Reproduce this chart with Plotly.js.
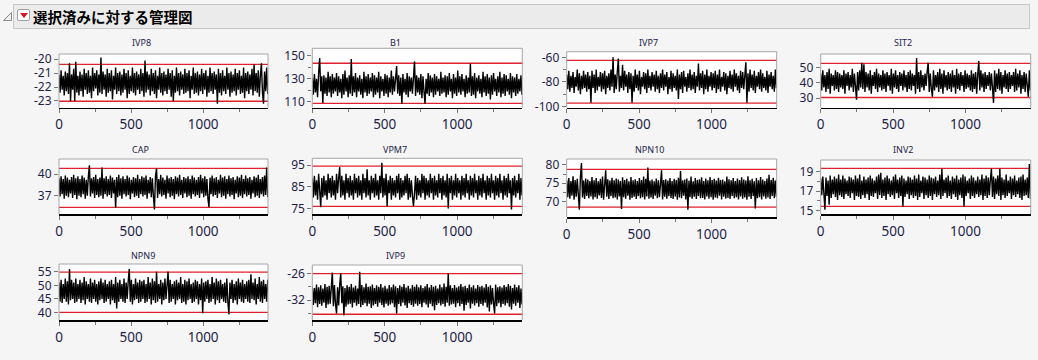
<!DOCTYPE html>
<html><head><meta charset="utf-8">
<script src="https://cdn.plot.ly/plotly-3.0.1.min.js"></script>
<style>
html,body{margin:0;padding:0;background:#f5f5f5;width:1038px;height:360px;overflow:hidden;}
#chart{position:absolute;left:0;top:0;width:1038px;height:360px;}
#hdr{position:absolute;left:13px;top:4px;width:1017px;height:25px;box-sizing:border-box;background:#ebebeb;border:1px solid #c8c8c8;z-index:5;}
#hdr .t{position:absolute;left:19px;top:1px;font-family:"Noto Sans CJK JP";font-weight:bold;font-size:14.5px;line-height:21px;color:#000;white-space:nowrap;}
#btn{position:absolute;left:3px;top:4px;width:13px;height:12px;box-sizing:border-box;background:#fff;border:1px solid #a0a0a0;border-radius:2px;}
#btn i{position:absolute;left:2px;top:3px;width:0;height:0;border-left:4px solid transparent;border-right:4px solid transparent;border-top:5px solid #d8141e;}
#disc{position:absolute;left:2px;top:11px;z-index:5;}
</style></head>
<body>
<div id="chart"></div>
<svg id="disc" width="11" height="11"><polygon points="9.5,1.5 9.5,9.5 1.5,9.5" fill="#f0f0f0" stroke="#8a8a8a" stroke-width="1"/></svg>
<div id="hdr"><div id="btn"><i></i></div><div class="t">選択済みに対する管理図</div></div>
<script>
// ---------- data (values read column by column: upper / lower extents of the trace) ----------
const seriesNames = ['IVP8','B1','IVP7','SIT2','CAP','VPM7','NPN10','INV2','NPN9','IVP9'];
const sampleCount = 1448;
const xTickVals = [0,500,1000];
const xTickText = ['0','500','1000'];
const xMinorVals = [250,750,1250];

const ivp8 = [
-21.1,-22.4,-20.8,-22.2,-21.2,-22.6,-20.9,-22.3,-21.0,-22.5,-20.3,-23.0,-21.1,-22.2,-20.7,-23.0,-20.2,-22.4,-21.2,-22.6,
-20.9,-22.3,-21.1,-22.7,-20.7,-22.2,-21.0,-22.5,-20.8,-22.4,-21.2,-22.8,-20.6,-22.3,-21.0,-22.1,-20.8,-22.6,-21.1,-22.4,
-19.9,-22.5,-20.9,-22.2,-21.1,-22.7,-20.7,-22.4,-21.0,-22.3,-20.8,-22.9,-21.2,-22.2,-20.6,-22.5,-21.0,-22.3,-20.9,-22.6,
-21.1,-22.4,-20.7,-22.2,-21.0,-22.8,-20.8,-22.5,-21.2,-22.3,-20.6,-22.4,-21.0,-22.6,-20.9,-22.2,-21.1,-22.5,-20.7,-22.3,
-21.0,-22.7,-20.1,-22.4,-20.9,-22.2,-21.1,-22.6,-20.7,-22.3,-21.0,-22.5,-20.8,-22.8,-21.2,-22.2,-20.6,-22.4,-21.0,-22.6,
-20.9,-22.3,-21.1,-22.5,-20.7,-22.2,-21.0,-22.7,-20.8,-23.0,-21.2,-22.4,-20.6,-22.3,-21.0,-22.6,-20.9,-22.2,-21.1,-22.5,
-20.7,-22.4,-21.0,-22.3,-20.8,-22.8,-21.2,-22.2,-20.6,-22.5,-21.0,-22.4,-20.9,-22.6,-21.1,-22.3,-20.7,-22.5,-21.0,-22.2,
-20.8,-22.7,-21.2,-22.4,-20.6,-22.3,-21.0,-22.5,-20.9,-22.2,-21.1,-23.2,-20.7,-22.4,-21.0,-22.6,-20.8,-22.3,-21.2,-22.5,
-20.6,-22.2,-21.0,-22.7,-20.9,-22.4,-21.1,-22.3,-20.7,-22.6,-21.0,-22.2,-20.8,-22.5,-21.2,-22.4,-20.6,-22.8,-21.0,-22.3,
-20.9,-22.5,-21.1,-22.2,-20.7,-22.6,-20.4,-22.3,-21.0,-22.4,-20.8,-22.7,-21.2,-20.3,-22.4,-23.2,-20.9,-22.3,-20.6,-22.5];

const b1 = [
131,116,134,118,130,114,135,148,119,132,109,133,117,131,115,136,118,132,114,134,
117,131,119,135,115,132,118,130,113,134,116,137,119,131,114,133,117,147,115,132,
118,135,114,131,119,133,116,130,113,136,118,132,115,134,117,131,119,135,114,133,
116,131,118,136,113,132,119,130,115,134,117,133,114,131,118,137,116,132,119,135,
141,117,133,115,131,108,134,118,130,116,135,114,132,119,131,117,136,145,115,133,
118,131,116,134,113,132,119,108,130,117,135,115,133,118,131,114,134,116,132,119,
130,115,136,117,131,118,133,114,132,116,135,119,130,113,134,117,131,115,137,118,
132,116,134,119,130,114,133,117,131,118,143,115,132,116,135,113,131,119,133,117,
130,114,136,118,132,115,134,117,131,112,133,116,135,119,130,115,132,118,136,114,
131,117,134,115,133,119,130,116,135,113,132,118,131,115,134,117,130,119,133,116];

const ivp7 = [
-74,-86,-71,-88,-75,-85,-72,-89,-76,-84,-70,-87,-73,-90,-75,-86,-71,-85,-74,-88,
-72,-86,-75,-97,-71,-85,-74,-89,-70,-87,-76,-84,-72,-88,-73,-86,-71,-90,-75,-85,
-73,-87,-70,-84,-60,-89,-74,-86,-72,-61,-88,-75,-85,-66,-87,-71,-84,-74,-89,-72,
-86,-73,-97,-75,-88,-70,-85,-74,-87,-71,-90,-76,-84,-72,-86,-73,-89,-70,-85,-75,
-87,-72,-84,-74,-88,-71,-86,-75,-89,-73,-85,-70,-87,-74,-84,-72,-90,-76,-86,-71,
-88,-73,-85,-75,-87,-70,-94,-74,-86,-72,-89,-71,-84,-76,-88,-73,-85,-70,-87,-74,
-86,-72,-89,-75,-84,-65,-87,-73,-85,-71,-90,-74,-86,-70,-88,-75,-84,-72,-87,-73,
-85,-71,-89,-74,-86,-70,-88,-76,-84,-72,-87,-73,-90,-75,-85,-71,-86,-74,-88,-70,
-84,-73,-87,-75,-89,-71,-85,-72,-86,-74,-64,-97,-73,-88,-70,-85,-74,-87,-71,-89,
-75,-84,-72,-86,-70,-88,-73,-85,-76,-87,-71,-89,-74,-84,-72,-86,-75,-88,-70,-85];

const sit2 = [
46,35,48,37,45,34,47,36,49,33,46,38,45,35,48,36,47,34,46,37,
45,36,48,33,46,38,47,35,45,37,49,34,46,36,29,47,35,48,37,53,
36,52,34,47,37,46,35,48,33,45,38,47,36,49,34,46,37,45,35,48,
36,46,34,47,38,45,35,49,33,46,37,48,36,45,34,47,38,46,35,48,
37,45,34,47,36,48,35,46,38,45,33,56,36,47,34,48,37,45,35,46,
38,47,53,34,46,36,31,48,35,45,37,47,34,49,36,46,33,48,37,45,
35,47,36,46,34,48,37,45,33,49,36,46,35,47,38,45,34,48,36,46,
37,45,35,48,34,46,36,47,33,45,54,35,48,37,46,34,47,36,45,38,
47,35,46,37,27,48,34,46,36,49,35,47,33,45,37,48,36,46,34,47,
36,45,38,47,34,49,35,46,37,48,33,45,36,47,34,46,37,31,48,35];

const cap = [
39.4,36.9,39.7,37.2,39.3,36.6,39.8,37.0,39.5,36.8,39.2,37.3,39.6,36.7,39.9,37.1,39.4,36.5,39.7,37.0,
39.3,36.8,39.8,37.2,39.5,36.6,39.2,37.0,39.7,41.2,36.9,39.4,37.3,39.6,36.7,39.9,37.1,39.3,36.8,39.5,
37.0,40.9,36.6,39.4,37.2,39.7,36.9,39.3,37.1,39.8,36.7,39.5,37.3,39.2,35.3,39.6,36.8,39.9,37.0,39.4,
36.6,39.7,37.2,39.3,36.9,39.8,37.1,39.5,36.5,39.2,37.3,39.6,36.8,39.4,37.0,39.9,36.7,39.3,37.2,39.7,
36.9,39.5,37.1,39.8,36.6,39.2,37.3,39.6,36.8,39.4,37.0,35.1,39.7,40.8,36.7,39.3,37.2,39.9,36.9,39.5,
37.1,39.2,36.6,39.8,37.3,39.4,36.8,39.6,37.0,39.3,36.5,39.7,37.2,39.5,36.9,39.9,37.1,39.2,36.7,39.6,
37.3,39.4,36.8,39.7,37.0,39.3,36.6,39.8,37.2,39.5,36.9,39.2,37.1,39.6,36.7,39.9,37.3,39.4,36.8,39.7,
37.0,39.3,36.6,35.4,39.5,37.2,39.8,36.9,39.4,37.1,39.6,36.7,39.2,37.3,39.9,36.8,39.5,37.0,39.7,36.6,
39.3,37.2,39.8,36.9,39.4,37.1,39.6,36.5,39.2,37.3,39.7,36.8,39.5,37.0,39.9,36.7,39.3,37.2,39.8,36.9,
39.4,37.1,39.6,36.6,39.2,37.3,39.7,36.8,39.5,37.0,39.9,36.7,39.3,37.2,39.6,36.9,39.8,37.1,40.9,36.8];

const vpm7 = [
89,80,90,81,88,79,91,82,75.5,89,80,90,81,88,79,91,82,89,80,90,
81,88,79,91,82,89,94,80,90,81,88,79,91,82,89,80,90,81,88,79,
91,82,89,80,90,81,88,79,91,82,89,80,93,81,88,79,90,82,89,80,
91,81,88,79,90,82,96,80,89,81,91,76,88,82,90,79,89,81,88,80,
90,82,91,79,89,80,88,81,90,82,91,79,89,80,88,81,76,82,90,79,
89,81,88,80,91,82,90,79,89,81,88,80,91,82,89,79,90,81,88,80,
91,82,89,79,90,81,88,80,91,75,89,82,90,79,88,81,91,80,89,82,
88,79,90,81,89,80,91,82,88,79,90,81,89,80,91,82,88,79,90,81,
89,80,91,82,88,79,90,81,89,80,91,82,88,79,90,81,89,80,91,82,
88,79,90,81,89,80,91,82,88,74.5,89,81,90,80,88,82,91,79,89,81];

const npn10 = [
75.8,71.2,76.4,70.8,75.6,71.6,76.9,70.5,75.9,71.3,76.2,70.9,67.8,76.6,80.5,71.1,75.7,70.7,76.3,71.5,
76.0,70.9,75.6,71.4,76.7,70.6,75.8,71.2,76.4,70.8,75.5,71.7,76.2,71.0,76.8,70.5,75.9,78.5,71.3,76.1,
70.7,75.7,71.5,76.5,70.9,75.8,71.1,76.3,70.6,76.0,71.4,75.6,68.0,76.6,71.2,75.9,70.8,76.2,71.6,75.5,
70.5,76.7,71.0,75.8,71.3,76.1,70.7,75.6,71.5,76.4,70.9,75.9,71.2,76.8,70.6,76.2,71.4,79.3,70.8,75.7,
71.1,76.0,70.7,75.5,71.6,76.3,70.9,75.8,71.2,76.6,78.5,70.6,75.9,71.3,76.1,70.8,75.7,71.5,76.4,71.0,
75.6,70.7,76.2,71.4,75.9,70.5,76.5,71.1,78.3,70.9,75.8,71.6,76.0,70.6,76.3,67.8,75.7,71.2,76.8,70.8,
75.5,71.3,76.4,70.7,75.9,71.5,76.1,70.9,76.6,71.0,75.6,70.6,76.3,71.4,75.8,70.8,76.7,71.2,75.9,70.5,
76.2,71.1,75.7,70.9,76.5,71.6,75.9,70.6,76.0,71.3,75.5,70.8,76.8,71.0,76.1,70.7,75.8,71.5,76.4,70.9,
75.6,71.2,76.3,70.6,75.9,71.4,76.6,70.8,76.0,71.1,75.7,70.5,76.9,71.3,75.8,70.7,76.2,71.5,75.5,68.1,
76.4,70.9,75.8,71.2,76.7,70.6,76.0,71.4,75.6,70.8,76.3,71.1,77.3,70.7,75.9,71.5,76.5,70.9,75.7,71.3];

const inv2 = [
18.3,16.6,18.5,16.2,15.1,18.4,16.5,18.1,15.6,18.6,16.3,18.2,16.7,18.5,16.4,18.3,16.1,18.7,16.6,18.2,
16.4,18.6,16.2,18.3,16.7,18.1,16.5,18.5,16.3,18.4,16.8,18.2,16.1,18.6,16.5,18.3,16.4,18.7,16.2,18.1,
16.6,18.5,16.3,18.2,16.7,18.4,16.1,18.6,16.5,18.3,16.4,18.1,16.8,18.5,16.2,18.7,16.6,18.9,16.3,18.2,
16.5,18.4,16.1,18.6,16.7,18.3,16.4,18.1,16.6,18.5,16.2,18.7,16.8,18.2,16.3,18.4,16.5,18.6,15.4,18.3,
16.4,18.1,16.7,18.5,16.2,18.4,16.6,18.2,16.3,18.6,16.5,18.3,16.1,18.7,16.4,18.1,16.8,18.5,16.2,18.4,
16.6,18.2,16.3,18.6,16.5,18.4,16.1,18.3,16.7,18.5,16.4,18.1,16.6,18.7,16.2,19.3,16.5,18.2,16.8,18.4,
16.3,18.6,16.5,18.1,16.2,18.5,16.7,18.3,16.4,18.6,16.1,18.2,16.6,18.4,16.3,18.7,15.4,18.5,16.5,18.1,
16.8,18.3,16.2,18.6,16.5,18.4,16.3,18.1,16.7,18.5,16.4,18.2,16.6,18.7,16.1,18.3,16.5,18.6,16.3,18.4,
16.6,18.2,19.3,16.4,18.5,16.2,18.3,16.7,18.6,16.5,19.3,16.1,18.4,16.6,18.2,16.3,18.7,16.5,18.1,16.8,
18.5,16.2,18.3,16.6,18.6,16.4,18.1,16.7,18.4,16.3,18.5,16.1,18.7,16.5,18.2,16.6,18.4,16.3,19.8,16.2];

const npn9 = [
51,44,52,43.5,50.5,45,52.5,44,51.5,43,56,44.5,52,45,51,43.5,52.5,44,50.5,45,
52,43.5,51,44.5,53,43,51.5,45,50.5,44,52.5,43.5,51,45,52,44,50.5,43,51.5,44.5,
52.5,45,51,43.5,52,44,50.5,45,51.5,43,52,44.5,50.5,43.5,53,41.5,51,44,52,45,
50.5,44,52.5,43.5,51,45,51.5,56,44,52,43,50.5,44.5,52.5,45,51,43.5,52,44,51.5,
45,52,43.5,50.5,44,53,45,51,43,52.5,44.5,51.5,43.5,55,44,50.5,45,52,43,51,
44.5,52.5,45,51,55,43.5,52,44,50.5,45,51.5,43,52,44.5,51,45,53,43.5,50.5,44,
52,43,51.5,44.5,52.5,45,50.5,43.5,51,44,52,45,51.5,43,50.5,44.5,52.5,39.8,51,44,
51.5,45,52,43.5,50.5,44,53,45,51,43,52.5,44.5,51.5,43.5,52,45,50.5,44,51,43.5,
52.5,44,39.3,51,45,52,43.5,50.5,44.5,51.5,43,52.5,45,51,44,52,43.5,50.5,45,51.5,
44,52,43.5,54,45,51,44.5,52.5,43,50.5,45,53,44,51.5,43.5,52,45,50.5,44,52];

const ivp9 = [
-28.9,-33.1,-29.3,-32.7,-28.5,-33.6,-29.1,-32.9,-28.7,-33.3,-29.4,-32.6,-28.4,-33.8,-29.0,-33.0,-28.8,-32.8,-29.2,-25.8,
-33.4,-28.6,-32.9,-35.0,-29.1,-33.2,-28.5,-26.0,-32.7,-28.9,-35.5,-29.3,-33.5,-28.7,-33.0,-29.0,-32.8,-28.4,-33.7,-29.2,
-32.6,-28.8,-33.3,-29.4,-32.9,-25.6,-33.6,-28.6,-33.1,-29.1,-32.7,-28.3,-33.4,-29.0,-32.8,-28.9,-33.8,-28.5,-33.2,-29.3,
-32.9,-28.7,-33.5,-29.0,-32.6,-28.4,-33.1,-29.2,-33.7,-28.8,-32.8,-29.4,-33.3,-28.6,-33.0,-29.1,-32.7,-28.5,-33.6,-28.9,
-35.0,-29.3,-32.9,-28.7,-33.4,-29.0,-32.6,-28.4,-33.2,-29.2,-33.8,-28.8,-32.7,-29.4,-33.1,-28.6,-33.5,-29.0,-32.8,-28.5,
-33.3,-29.1,-32.9,-28.7,-33.6,-29.3,-32.6,-28.9,-33.0,-28.4,-33.7,-29.2,-32.8,-28.6,-33.4,-29.0,-34.3,-28.8,-33.1,-29.4,
-32.7,-28.5,-33.2,-29.1,-32.9,-28.3,-33.5,-29.0,-32.6,-26.0,-33.3,-28.7,-33.0,-29.3,-32.8,-28.6,-33.6,-29.2,-32.7,-28.9,
-33.4,-28.4,-32.9,-29.0,-34.4,-28.8,-33.1,-29.3,-32.6,-28.5,-33.9,-29.1,-32.8,-28.7,-33.2,-29.4,-32.7,-28.6,-33.5,-29.0,
-32.9,-28.8,-33.3,-29.2,-32.6,-28.4,-33.7,-29.0,-34.6,-28.7,-33.0,-29.3,-32.8,-35.0,-28.5,-33.4,-29.1,-32.7,-28.9,-33.6,
-29.2,-32.9,-28.6,-33.2,-29.0,-32.7,-28.4,-33.5,-28.8,-34.1,-29.3,-32.8,-28.5,-33.3,-29.1,-32.6,-28.7,-33.8,-29.4,-33.0];

const seriesValues = [ivp8,b1,ivp7,sit2,cap,vpm7,npn10,inv2,npn9,ivp9];
const ucl = [-20.38,143.4,-62.4,52.6,40.79,94.5,78.8,19.35,54.8,-26.05];
const lcl = [-23.02,108.6,-97.3,30.5,35.39,75.9,68.5,15.45,40.1,-35.2];
const yTickVals = [[-20,-21,-22,-23],[150,130,110],[-60,-80,-100],[50,40,30],[40,37],[95,85,75],[80,75,70],[19,17,15],[55,50,45,40],[-26,-32]];
const yTickText = [['-20','-21','-22','-23'],['150','130','110'],['-60','-80','-100'],['50','40','30'],['40','37'],['95','85','75'],['80','75','70'],['19','17','15'],['55','50','45','40'],['-26','-32']];
const yMinorVals = [[],[140,120],[-70,-90],[],[],[],[77.5,72.5],[18,16],[],[-29,-35]];

// ---------- layout (pixel geometry) ----------
const W = 1038, H = 360;
const panels = [
 {L:59,R:268,T:54,B:107.7,yr:[-23.48,-19.64],tx:141,ty:42},
 {L:312.3,R:522.3,T:48.3,B:107.7,yr:[104.8,156.4],tx:395,ty:42},
 {L:566.7,R:776.7,T:51.7,B:107.7,yr:[-101.1,-55.4],tx:648,ty:42},
 {L:820.7,R:1030.7,T:54,B:107.7,yr:[23.9,58.6],tx:903,ty:42},
 {L:59,R:268,T:159,B:214,yr:[34.47,42.08],tx:140,ty:149},
 {L:312.3,R:522.3,T:158.3,B:214,yr:[72.4,98.1],tx:395,ty:149},
 {L:566.7,R:776.7,T:159,B:217,yr:[65.8,81.6],tx:649,ty:149},
 {L:820.7,R:1030.7,T:160,B:214,yr:[14.66,20.2],tx:903,ty:149},
 {L:59,R:268,T:264,B:320,yr:[37.3,57.8],tx:143,ty:255},
 {L:312.3,R:522.3,T:265,B:320,yr:[-36.5,-24.1],tx:395,ty:255}
];

const FONT = '"Noto Sans", "DejaVu Sans", sans-serif';
const LBL = '#1e1e48';
const FRAME = '#a6a6a6';
const traces = [];
const layout = {
  width: W, height: H, margin: {l:0,r:0,t:0,b:0},
  paper_bgcolor: '#f5f5f5', plot_bgcolor: '#ffffff',
  showlegend: false, shapes: [], annotations: []
};

seriesValues.forEach((vals, k) => {
  const n = k + 1;
  const xs = n === 1 ? 'x' : 'x' + n;
  const ys = n === 1 ? 'y' : 'y' + n;
  const xKey = n === 1 ? 'xaxis' : 'xaxis' + n;
  const yKey = n === 1 ? 'yaxis' : 'yaxis' + n;
  const p = panels[k];
  const xv = vals.map((v, i) => i * sampleCount / (vals.length - 1));
  traces.push({type:'scatter', mode:'lines', x: xv, y: vals, xaxis: xs, yaxis: ys,
    line:{color:'#000000', width:1.4}, hoverinfo:'skip'});
  layout[xKey] = {
    domain:[p.L/W, p.R/W], anchor: ys, range:[0,1450], fixedrange:true,
    showline:true, linecolor:'#000000', linewidth:1.5, showgrid:false, zeroline:false,
    ticks:'outside', ticklen:4, tickcolor:'#777', tickmode:'array',
    tickvals:xTickVals, ticktext:xTickText,
    tickfont:{family:FONT, size:13.5, color:LBL},
    minor:{tickmode:'array', tickvals:xMinorVals, ticks:'outside', ticklen:3, tickcolor:'#777', showgrid:false}
  };
  layout[yKey] = {
    domain:[1 - p.B/H, 1 - p.T/H], anchor: xs, range:p.yr, fixedrange:true,
    showline:false, showgrid:false, zeroline:false,
    ticks:'outside', ticklen:4, tickcolor:'#777', tickmode:'array',
    tickvals:yTickVals[k], ticktext:yTickText[k],
    tickfont:{family:FONT, size:12, color:LBL},
    minor:{tickmode:'array', tickvals:yMinorVals[k], ticks:'outside', ticklen:3, tickcolor:'#777', showgrid:false}
  };
  const xd = xs + ' domain', yd = ys + ' domain';
  layout.shapes.push({type:'line', xref:xd, yref:yd, x0:0, x1:0, y0:0, y1:1, line:{color:FRAME, width:1}});
  layout.shapes.push({type:'line', xref:xd, yref:yd, x0:0, x1:1, y0:1, y1:1, line:{color:FRAME, width:1}});
  layout.shapes.push({type:'line', xref:xd, yref:yd, x0:1, x1:1, y0:0, y1:1, line:{color:FRAME, width:1}});
  layout.shapes.push({type:'line', xref:xd, yref:ys, x0:0, x1:1, y0:ucl[k], y1:ucl[k], layer:'below', line:{color:'#e0202c', width:1.3}});
  layout.shapes.push({type:'line', xref:xd, yref:ys, x0:0, x1:1, y0:lcl[k], y1:lcl[k], layer:'below', line:{color:'#e0202c', width:1.3}});
  layout.annotations.push({text: seriesNames[k], xref:'paper', yref:'paper', x:p.tx/W, y:1 - p.ty/H,
    xanchor:'center', yanchor:'middle', showarrow:false, font:{family:FONT, size:9, color:'#24244a'}});
});

Plotly.newPlot('chart', traces, layout, {displayModeBar:false, staticPlot:true});
</script>
</body></html>
